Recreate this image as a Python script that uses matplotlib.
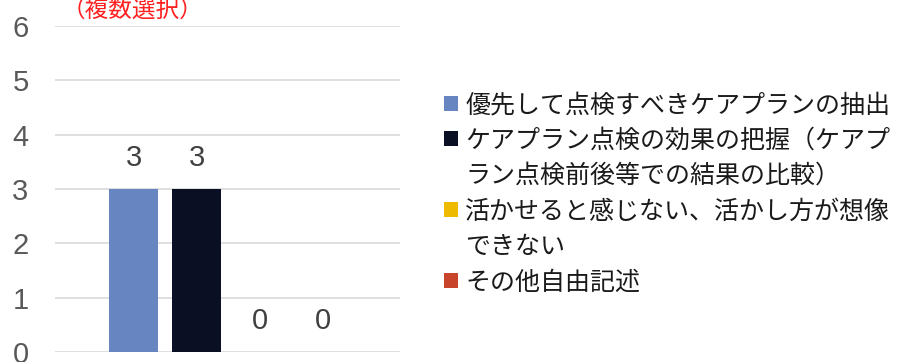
import matplotlib.pyplot as plt
from matplotlib.patches import Patch

# data
categories = ['優先して点検すべきケアプランの抽出',
              'ケアプラン点検の効果の把握（ケアプ\nラン点検前後等での結果の比較）',
              '活かせると感じない、活かし方が想像\nできない',
              'その他自由記述']
values = [3, 3, 0, 0]
colors = ['#6786C1', '#0A0F23', '#EDBA00', '#C8452B']
y_ticks = [0, 1, 2, 3, 4, 5, 6]
note = '（複数選択）'

plt.rcParams['font.family'] = ['Liberation Sans', 'Noto Sans CJK JP', 'DejaVu Sans']

fig = plt.figure(figsize=(9.02, 3.62), dpi=100)
ax = fig.add_axes([55 / 902, 10 / 362, 345 / 902, 326 / 362])

x = list(range(len(values)))
bars = ax.bar(x, values, width=0.78, color=colors, zorder=3)
ax.bar_label(bars, padding=12, fontsize=21, color='#404040')

ax.set_xlim(-1.246, 4.23)
ax.set_ylim(0, 6)
ax.set_yticks(y_ticks)
ax.set_xticks([])
ax.tick_params(axis='y', length=0, pad=19, labelsize=21, labelcolor='#595959')
ax.grid(axis='y', color='#d9d9d9', lw=1.2, zorder=0)
for s in ax.spines.values():
    s.set_visible(False)

# red note, partly cut off at the top
fig.text(62 / 902, 1 - 10 / 362, note, color='#FF2020', fontsize=17,
         family=['Noto Sans CJK JP'], va='center', ha='left')

# one legend row per text line; wrapped lines get an empty handle
handles, labels = [], []
for cat, c in zip(categories, colors):
    for i, line in enumerate(cat.split('\n')):
        if i == 0:
            handles.append(Patch(facecolor=c, edgecolor='none'))
        else:
            handles.append(Patch(facecolor='none', edgecolor='none'))
        labels.append(line)

leg = fig.legend(handles, labels, loc='upper left',
                 bbox_to_anchor=(444 / 902, 1 - 92 / 362), frameon=False,
                 prop={'family': ['Noto Sans CJK JP'], 'size': 18},
                 handlelength=0.55, handleheight=0.55, handletextpad=0.3,
                 labelspacing=0.38, borderpad=0, borderaxespad=0)
for t in leg.get_texts():
    t.set_color('#1a1a1a')

fig.savefig('out.png', dpi=100)
